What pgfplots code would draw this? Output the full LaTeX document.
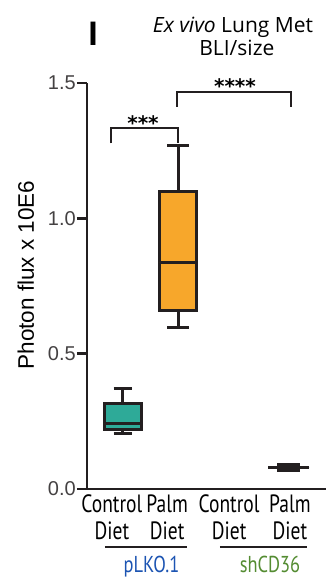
\documentclass[border=0pt]{standalone}
\usepackage{pgfplots}
\pgfplotsset{compat=1.18}
\usepgfplotslibrary{statistics}
\usepackage{fontspec}
\setmainfont{Liberation Sans}
\newfontfamily\myr{PT Sans}
\newfontfamily\opn{Open Sans}
\newfontfamily\djv{DejaVu Sans}
\definecolor{axc}{RGB}{35,31,32}
\definecolor{tealbox}{RGB}{46,170,152}
\definecolor{orangebox}{RGB}{247,167,43}
\definecolor{plkoblue}{RGB}{28,84,178}
\definecolor{shgreen}{RGB}{84,140,50}
\newcommand\xl[2]{\scalebox{0.78}[1]{\myr\fontsize{25}{27}\selectfont\begin{tabular}{@{}c@{}}#1\\#2\end{tabular}}}
\begin{document}
\begin{tikzpicture}
\begin{axis}[
  name=ax,
  scale only axis,
  width=239pt, height=406pt,
  xmin=-0.65, xmax=3.672,
  ymin=0, ymax=1.5,
  axis x line=bottom, axis y line=left,
  axis line style={-, line width=2.5pt, color=axc},
  ytick={0,0.5,1,1.5},
  yticklabel style={/pgf/number format/fixed, /pgf/number format/fixed zerofill, /pgf/number format/precision=1, /pgf/number format/assume math mode=true},
  yticklabel style={font=\fontsize{20}{24}\selectfont, color=axc!85, inner sep=1pt},
  ytick style={line width=2.5pt, color=axc},
  tick align=outside,
  major tick length=10pt,
  xtick={-0.2,0.8,1.92,3.02},
  xticklabels={{\xl{Control}{Diet}},{\xl{Palm}{Diet}},{\xl{Control}{Diet}},{\xl{Palm}{Diet}}},
  xtick style={draw=none},
  xticklabel style={anchor=north, inner sep=0pt, yshift=6pt},
  ylabel={Photon flux x 10E6},
  every axis y label/.style={at={(rel axis cs:-0.2218,0.527)}, rotate=90, anchor=base, font=\fontsize{22.5}{26}\selectfont},
  boxplot/draw direction=y,
  clip=false,
]
% pLKO.1 Control Diet
\addplot[boxplot prepared={draw position=0, lower whisker=0.205, lower quartile=0.218, median=0.243, upper quartile=0.316, upper whisker=0.371, box extend=0.66, whisker extend=0.34}, draw=axc, fill=tealbox, line width=3pt] coordinates {};
% pLKO.1 Palm Diet
\addplot[boxplot prepared={draw position=1, lower whisker=0.597, lower quartile=0.661, median=0.837, upper quartile=1.099, upper whisker=1.269, box extend=0.67, whisker extend=0.40}, draw=axc, fill=orangebox, line width=3pt] coordinates {};
% shCD36 Palm Diet
\addplot[boxplot prepared={draw position=3, lower whisker=0.078, lower quartile=0.070, median=0.079, upper quartile=0.089, upper whisker=0.080, box extend=0.36, whisker extend=0.74}, draw=axc, fill=axc, line width=3pt] coordinates {};
% significance brackets
\draw[line width=2pt, color=axc] (axis cs:-0.216,1.277) -- (axis cs:-0.216,1.332) -- (axis cs:1.0,1.332) -- (axis cs:1.0,1.277);
\draw[line width=2pt, color=axc] (axis cs:0.977,1.413) -- (axis cs:0.977,1.465) -- (axis cs:3.039,1.465) -- (axis cs:3.039,1.413);
\node[anchor=north, inner sep=0pt, font=\djv\bfseries\fontsize{20}{24}\selectfont] at (axis cs:0.363,1.380) {***};
\node[anchor=north, inner sep=0pt, font=\djv\bfseries\fontsize{20}{24}\selectfont] at (axis cs:2.026,1.517) {****};
% titles
\node[anchor=base, inner sep=0pt, font=\opn\fontsize{21}{24}\selectfont] at (axis cs:1.99,1.686) {\textit{Ex vivo} Lung Met};
\node[anchor=base, inner sep=0pt, font=\opn\fontsize{21}{24}\selectfont] at (axis cs:2.06,1.601) {BLI/size};
\node[anchor=base, inner sep=0pt, font=\bfseries\fontsize{34}{38}\selectfont] at (axis cs:-0.54,1.64) {I};
% group underlines and labels
\draw[line width=2pt, color=axc] (axis cs:-0.325,-0.214) -- (axis cs:1.157,-0.214);
\draw[line width=2pt, color=axc] (axis cs:1.754,-0.214) -- (axis cs:3.327,-0.214);
\node[anchor=base, inner sep=0pt, text=plkoblue] at (axis cs:0.516,-0.310) {\scalebox{0.8}[1]{\myr\fontsize{23}{26}\selectfont pLKO.1}};
\node[anchor=base, inner sep=0pt, text=shgreen] at (axis cs:2.659,-0.310) {\scalebox{0.8}[1]{\myr\fontsize{23}{26}\selectfont shCD36}};
\end{axis}
\pgfresetboundingbox
\path[use as bounding box] ([shift={(-87pt,-89pt)}]ax.south west) rectangle ([shift={(245pt,489pt)}]ax.south west);
\end{tikzpicture}
\end{document}
